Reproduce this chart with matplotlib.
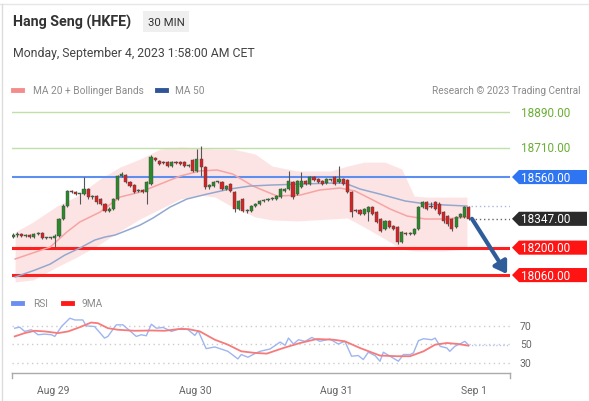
import matplotlib
matplotlib.use("Agg")
import matplotlib.pyplot as plt
import numpy as np
from matplotlib.patches import Polygon, FancyBboxPatch

plt.rcParams['font.family'] = ['Roboto', 'DejaVu Sans']

# ---------------- data ----------------
opens = [18254, 18264, 18269, 18259, 18264, 18254, 18269, 18274, 18249, 18249,
         18250, 18259, 18346, 18412, 18489, 18483, 18473, 18475, 18499, 18458,
         18463, 18448, 18422, 18387, 18397, 18448, 18565, 18570, 18534, 18519,
         18489, 18494, 18483, 18524, 18655, 18642, 18636, 18636, 18616, 18636,
         18636, 18636, 18616, 18647, 18591, 18652, 18611, 18509, 18514, 18534,
         18534, 18499, 18524, 18483, 18397, 18448, 18387, 18387, 18412, 18422,
         18438, 18443, 18448, 18448, 18458, 18489, 18499, 18534, 18473, 18509,
         18540, 18524, 18560, 18550, 18540, 18529, 18545, 18560, 18534, 18550,
         18545, 18483, 18392, 18392, 18371, 18381, 18407, 18381, 18346, 18295,
         18336, 18310, 18305, 18228, 18274, 18270, 18269, 18295, 18407, 18432,
         18412, 18432, 18422, 18381, 18361, 18346, 18305, 18356, 18356, 18407]
closes = [18264, 18269, 18259, 18264, 18254, 18269, 18274, 18249, 18249, 18250,
          18259, 18346, 18412, 18489, 18483, 18473, 18475, 18499, 18458, 18463,
          18432, 18422, 18387, 18397, 18448, 18565, 18575, 18534, 18514, 18483,
          18494, 18483, 18534, 18662, 18647, 18626, 18631, 18616, 18636, 18631,
          18626, 18616, 18621, 18591, 18652, 18611, 18509, 18519, 18534, 18534,
          18499, 18514, 18489, 18397, 18438, 18387, 18390, 18412, 18422, 18438,
          18443, 18448, 18453, 18463, 18499, 18499, 18540, 18458, 18540, 18540,
          18524, 18560, 18545, 18534, 18524, 18550, 18545, 18524, 18550, 18524,
          18483, 18381, 18387, 18371, 18397, 18407, 18371, 18331, 18285, 18336,
          18305, 18295, 18228, 18280, 18270, 18272, 18295, 18407, 18432, 18397,
          18407, 18397, 18371, 18336, 18320, 18295, 18356, 18371, 18407, 18347]
highs = [18275, 18280, 18274, 18270, 18269, 18274, 18280, 18278, 18254, 18255,
         18270, 18352, 18420, 18495, 18494, 18489, 18480, 18560, 18504, 18470,
         18468, 18455, 18427, 18405, 18452, 18570, 18588, 18575, 18540, 18524,
         18499, 18499, 18540, 18670, 18660, 18647, 18641, 18641, 18641, 18641,
         18641, 18641, 18626, 18652, 18703, 18718, 18616, 18524, 18540, 18540,
         18540, 18519, 18529, 18489, 18443, 18453, 18397, 18418, 18428, 18443,
         18448, 18453, 18458, 18468, 18504, 18504, 18591, 18540, 18545, 18586,
         18545, 18565, 18565, 18555, 18545, 18555, 18550, 18565, 18616, 18555,
         18550, 18489, 18397, 18397, 18402, 18412, 18412, 18386, 18351, 18341,
         18341, 18315, 18310, 18285, 18280, 18278, 18300, 18412, 18438, 18438,
         18432, 18438, 18432, 18386, 18366, 18351, 18361, 18376, 18412, 18412]
lows = [18249, 18254, 18254, 18254, 18249, 18249, 18264, 18244, 18244, 18244,
        18203, 18254, 18340, 18405, 18478, 18468, 18422, 18470, 18450, 18450,
        18425, 18415, 18380, 18382, 18392, 18443, 18558, 18530, 18509, 18478,
        18483, 18478, 18422, 18519, 18640, 18621, 18626, 18611, 18611, 18626,
        18621, 18611, 18611, 18586, 18586, 18565, 18499, 18499, 18509, 18529,
        18494, 18494, 18483, 18381, 18392, 18381, 18376, 18382, 18407, 18417,
        18433, 18438, 18443, 18443, 18453, 18483, 18494, 18450, 18468, 18504,
        18519, 18519, 18540, 18529, 18519, 18524, 18540, 18519, 18529, 18519,
        18478, 18356, 18382, 18366, 18366, 18336, 18366, 18326, 18280, 18290,
        18300, 18290, 18220, 18222, 18264, 18264, 18264, 18290, 18402, 18392,
        18402, 18392, 18366, 18326, 18310, 18285, 18300, 18351, 18351, 18342]

ma50_idx = [0.5, 5.3, 8.9, 12.4, 16.0, 19.6, 22.0, 24.4, 27.5, 30.4, 33.5, 37.6,
            41.6, 46.4, 51.9, 56.7, 61.5, 68.7, 75.8, 79.4, 83.0, 87.8, 93.8, 99.0, 108.6]
ma50_val = [18050, 18086, 18116, 18162, 18198, 18239, 18254, 18264, 18290, 18315, 18351, 18407,
            18448, 18473, 18499, 18514, 18519, 18524, 18529, 18529, 18499, 18473, 18438, 18422, 18412]

ma20_idx = [0.5, 8.9, 12.9, 16.0, 20.8, 25.6, 30.4, 35.2, 40.0, 44.7, 48.8, 52.6,
            57.4, 63.2, 68.7, 73.4, 78.2, 81.8, 86.1, 90.2, 94.3, 98.6, 103.3, 108.6]
ma20_val = [18142, 18203, 18280, 18331, 18381, 18458, 18483, 18524, 18565, 18591, 18596, 18575,
            18514, 18463, 18468, 18494, 18504, 18489, 18443, 18397, 18361, 18346, 18346, 18356]

bb_idx = [0.5, 4.8, 10.5, 15.3, 20.8, 25.6, 30.4, 35.2, 40.0, 44.7, 48.3, 52.6,
          58.0, 62.0, 68.0, 76.0, 80.0, 84.0, 89.0, 93.0, 96.0, 99.0, 103.0, 108.6]
bb_upper = [18280, 18331, 18412, 18463, 18550, 18611, 18652, 18703, 18713, 18708, 18703, 18703,
            18677, 18616, 18591, 18591, 18616, 18636, 18636, 18601, 18463, 18458, 18458, 18458]
bb_lower = [18025, 18035, 18101, 18152, 18218, 18285, 18346, 18397, 18448, 18468, 18458, 18407,
            18356, 18341, 18336, 18346, 18351, 18305, 18244, 18193, 18183, 18183, 18183, 18193]

rsi_idx = [0.4, 1.6, 2.8, 4.4, 6.0, 7.6, 9.2, 10.0, 11.6, 13.6, 14.8, 16.7, 17.5, 19.5,
           21.9, 22.7, 24.7, 26.3, 29.5, 30.7, 31.9, 33.1, 34.3, 35.9, 37.9, 40.3, 41.9,
           43.5, 44.3, 46.2, 48.3, 51.4, 53.8, 54.6, 56.2, 58.2, 59.1, 61.5, 63.9, 65.1,
           65.9, 67.1, 68.3, 69.9, 71.5, 73.4, 75.8, 77.8, 79.4, 81.0, 82.6, 83.8, 85.0,
           86.6, 87.8, 88.6, 90.2, 92.2, 93.4, 95.0, 95.8, 97.0, 98.2, 100.2, 101.0,
           102.2, 103.8, 104.5, 105.7, 106.9, 108.1, 108.9]
rsi_val = [67.1, 68.2, 63.6, 65.4, 60.0, 60.7, 60.0, 58.2, 68.9, 77.9, 76.0, 76.0, 69.6, 68.9,
           56.4, 58.2, 70.7, 70.7, 58.2, 60.0, 58.9, 71.4, 67.1, 67.9, 63.6, 67.1, 65.4,
           59.3, 64.3, 45.0, 46.8, 42.1, 33.9, 38.6, 35.7, 40.4, 42.1, 44.6, 52.1, 48.6,
           56.4, 50.0, 54.6, 52.9, 57.1, 52.9, 55.4, 50.0, 52.9, 36.8, 37.5, 33.2, 41.1,
           37.5, 31.4, 41.1, 36.8, 31.4, 38.6, 38.6, 40.4, 53.6, 55.7, 54.6, 56.4,
           47.5, 45.7, 42.1, 47.5, 50.0, 52.9, 49.3]

ma9_idx = [0.4, 2.8, 5.2, 7.6, 10.8, 13.2, 16.0, 18.7, 20.3, 22.7, 25.1, 29.1, 33.1, 36.3,
           39.5, 41.9, 44.7, 48.3, 51.4, 54.6, 57.8, 60.7, 64.7, 68.7, 72.7, 76.7, 79.4,
           83.0, 87.8, 91.8, 95.0, 98.2, 101.0, 103.8, 106.5, 108.9]
ma9_val = [58.2, 61.8, 64.3, 63.6, 61.8, 63.6, 68.2, 73.2, 72.5, 67.1, 65.4, 64.3, 64.6, 64.3,
           66.1, 66.1, 63.6, 54.6, 49.3, 42.1, 40.4, 39.6, 45.7, 51.1, 55.4, 54.6, 52.9,
           45.7, 37.5, 36.8, 36.8, 42.1, 49.3, 51.1, 50.0, 48.2]

date_ticks = [9.6, 43.5, 77.3, 110.3]
date_labels = ["Aug 29", "Aug 30", "Aug 31", "Sep 1"]

resistance = [18890.00, 18710.00, 18560.00]
support = [18200.00, 18060.00]
last_price = 18347.00
rsi_levels = [70, 50, 30]

# ---------------- figure ----------------
W, H = 589, 402
fig = plt.figure(figsize=(W / 100, H / 100), dpi=100)
fig.patch.set_facecolor("white")

def box(x0, y0, x1, y1):
    return [x0 / W, 1 - y1 / H, (x1 - x0) / W, (y1 - y0) / H]

# frame lines
fig.add_artist(plt.Line2D([0, 1], [1 - 5 / H, 1 - 5 / H], color="#e6e6e6", lw=1))
fig.add_artist(plt.Line2D([2 / W, 2 / W], [0, 1 - 5 / H], color="#dcdcdc", lw=1))

# header
fig.text(13 / W, 1 - 22 / H, "Hang Seng (HKFE)", fontsize=10.3, fontweight="bold",
         color="#333333", va="center", ha="left")
fig.add_artist(FancyBboxPatch((143 / W, 1 - 33 / H), 46 / W, 21 / H,
                              boxstyle="square,pad=0", fc="#efefef", ec="none",
                              transform=fig.transFigure))
fig.text(166 / W, 1 - 22.5 / H, "30 MIN", fontsize=8.2, color="#333333",
         va="center", ha="center")
fig.text(13 / W, 1 - 53 / H, "Monday, September 4, 2023 1:58:00 AM CET", fontsize=8.8,
         color="#444444", va="center", ha="left")

# legend row
fig.add_artist(plt.Line2D([13 / W, 22 / W], [1 - 91 / H] * 2, color="#f58c8c", lw=3.5))
fig.text(33 / W, 1 - 91 / H, "MA 20 + Bollinger Bands", fontsize=7.3, color="#8a8a8a", va="center")
fig.add_artist(plt.Line2D([157 / W, 166 / W], [1 - 91 / H] * 2, color="#2f5597", lw=3.5))
fig.text(175 / W, 1 - 91 / H, "MA 50", fontsize=7.3, color="#8a8a8a", va="center")
fig.text(581 / W, 1 - 91 / H, "Research \u00a9 2023 Trading Central", fontsize=7.2,
         color="#8a8a8a", va="center", ha="right")

# ---------------- price axes ----------------
ax = fig.add_axes(box(12, 100, 510, 290))
ax.set_xlim(-0.24, 118.9)
ax.set_ylim(17989, 18958)
ax.axis("off")

ax.fill_between(bb_idx, bb_lower, bb_upper, color="#fddcdc", alpha=0.75, lw=0, zorder=1)
ax.plot(ma20_idx, ma20_val, color="#f7a3a3", lw=1.1, zorder=2)
ax.plot(ma50_idx, ma50_val, color="#93a8cf", lw=1.1, zorder=2)

# level lines
green_c = "#6aaf35"
for lv in resistance[:2]:
    ax.axhline(lv, color="#bfe0a6", lw=1, zorder=1.5)
ax.axhline(resistance[2], color="#5d8ff0", lw=1.5, zorder=1.5)
for lv in support:
    ax.axhline(lv, color="#ff1f1f", lw=2.2, zorder=1.5)

# candles
idx = np.arange(len(closes))
o = np.array(opens); c = np.array(closes); hi = np.array(highs); lo = np.array(lows)
up = c >= o
cols = np.where(up, "#2a8a2a", "#d62424")
ax.vlines(idx, lo, hi, color="#555555", lw=0.8, zorder=3)
ax.bar(idx, np.maximum(np.abs(c - o), 5), bottom=np.minimum(o, c), width=0.75,
       color=cols, edgecolor="#444444", linewidth=0.3, zorder=4)

# dotted extensions
ax.plot([idx[-1] + 0.5, 118.9], [last_price, last_price], color="#666666", lw=1,
        ls=(0, (1, 2)), zorder=2)
ax.plot([idx[-1] + 0.5, 118.9], [ma50_val[-1], ma50_val[-1]], color="#a8b8dc", lw=1,
        ls=(0, (1, 2)), zorder=2)

# forecast arrow
ax.annotate("", xy=(118.2, 18065), xytext=(109.8, last_price),
            arrowprops=dict(arrowstyle="-|>,head_length=0.7,head_width=0.45", lw=3,
                            color="#2f5d9a", shrinkA=0, shrinkB=0), zorder=6)

# right-hand labels
tr = ax.get_yaxis_transform()
x_pt, x_l, x_r = 1.004, 1.018, 1.1546
hh = 36
def tag(level, fc):
    poly = Polygon([(x_pt, level), (x_l, level + hh), (x_r, level + hh),
                    (x_r, level - hh), (x_l, level - hh)], closed=True,
                   transform=tr, fc=fc, ec="none", clip_on=False, zorder=5)
    ax.add_patch(poly)
    ax.text(1.022, level, f"{level:.2f}", transform=tr, color="white", fontsize=8.5,
            va="center", ha="left", clip_on=False, zorder=6)

for lv in resistance[:2]:
    ax.text(1.022, lv, f"{lv:.2f}", transform=tr, color=green_c, fontsize=8.5,
            va="center", ha="left", clip_on=False)
tag(resistance[2], "#2f74f0")
tag(last_price, "#2b2b2b")
for lv in support:
    tag(lv, "#ff1414")

# ---------------- RSI axes ----------------
ax2 = fig.add_axes(box(12, 310, 510, 374))
ax2.set_xlim(-0.24, 118.9)
ax2.set_ylim(18.65, 87.84)
for s in ["top", "right", "left"]:
    ax2.spines[s].set_visible(False)
ax2.spines["bottom"].set_color("#aaaaaa")
ax2.spines["bottom"].set_linewidth(1)
ax2.set_yticks([])
ax2.set_xticks(date_ticks)
ax2.set_xticklabels(date_labels, fontsize=7.5, color="#666666")
ax2.tick_params(axis="x", length=0, pad=9)

for lv in rsi_levels:
    ax2.plot([-0.24, 118.9], [lv, lv], color="#cccccc", lw=1, ls=(0, (1, 2.5)), zorder=1)
    ax2.text(1.02, lv, f"{lv}", transform=ax2.get_yaxis_transform(), fontsize=7.5,
             color="#666666", va="center", ha="left")

ax2.plot(rsi_idx, rsi_val, color="#9db5f0", lw=1, zorder=2)
ax2.plot(ma9_idx, ma9_val, color="#f77a7a", lw=1.3, zorder=3)
ax2.plot([rsi_idx[-1], 118.9], [rsi_val[-1], rsi_val[-1]], color="#b5c8f2", lw=1,
         ls=(0, (1, 1.5)), zorder=2)

xtr = ax2.get_xaxis_transform()
for xe in [-0.24, 118.9]:
    ax2.plot([xe, xe], [0, -0.08], transform=xtr, color="#aaaaaa", lw=1, clip_on=False)

# RSI legend
fig.add_artist(plt.Line2D([13 / W, 22 / W], [1 - 304 / H] * 2, color="#6b8ff0", lw=3.5))
fig.text(33 / W, 1 - 304 / H, "RSI", fontsize=7.3, color="#8a8a8a", va="center")
fig.add_artist(plt.Line2D([63 / W, 72 / W], [1 - 304 / H] * 2, color="#ff1a1a", lw=3.5))
fig.text(82 / W, 1 - 304 / H, "9MA", fontsize=7.3, color="#8a8a8a", va="center")

fig.savefig("out.png", dpi=100)
